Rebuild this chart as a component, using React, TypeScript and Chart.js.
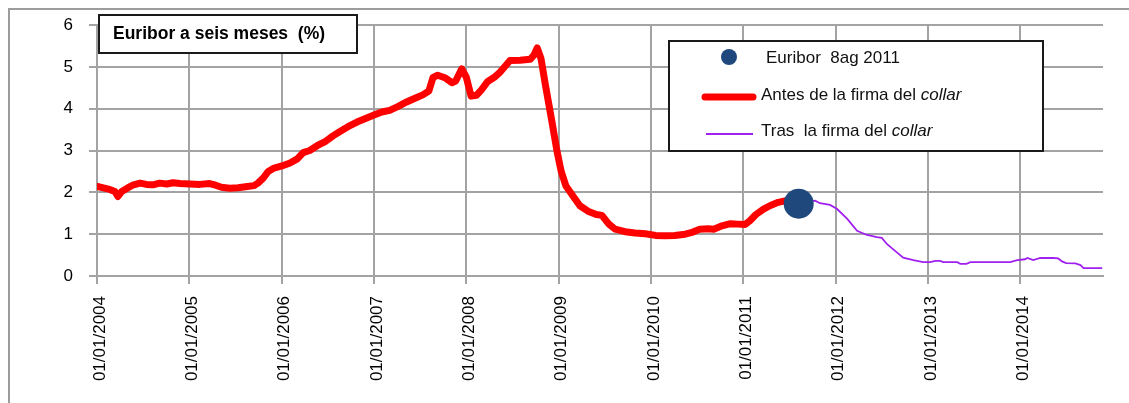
import React, { useEffect, useRef } from "react";
import { Chart, registerables } from "chart.js";

Chart.register(...registerables);

// Six-month Euribor (%), before the collar was signed
const beforeDates = [
  "2004-01-02", "2004-01-30", "2004-02-20", "2004-03-12", "2004-03-24", "2004-04-08",
  "2004-04-30", "2004-05-21", "2004-06-20", "2004-07-15", "2004-08-10", "2004-09-05",
  "2004-10-04", "2004-10-28", "2004-11-25", "2005-01-03", "2005-02-12", "2005-03-22",
  "2005-04-15", "2005-05-08", "2005-06-10", "2005-07-13", "2005-08-18", "2005-09-14",
  "2005-09-29", "2005-10-20", "2005-11-09", "2005-12-02", "2006-01-02", "2006-02-03",
  "2006-03-04", "2006-03-27", "2006-04-22", "2006-05-23", "2006-06-24", "2006-07-23",
  "2006-08-18", "2006-09-20", "2006-10-26", "2006-11-26", "2007-01-01", "2007-02-01",
  "2007-03-04", "2007-04-05", "2007-05-10", "2007-06-12", "2007-07-13", "2007-08-06",
  "2007-08-22", "2007-09-10", "2007-10-08", "2007-11-05", "2007-11-20", "2007-12-14",
  "2008-01-01", "2008-01-20", "2008-02-10", "2008-03-01", "2008-03-26", "2008-04-21",
  "2008-05-15", "2008-06-08", "2008-06-22", "2008-08-01", "2008-09-10", "2008-09-25",
  "2008-10-08", "2008-10-23", "2008-11-10", "2008-12-05", "2008-12-25", "2009-01-11",
  "2009-01-30", "2009-02-28", "2009-03-26", "2009-04-27", "2009-05-30", "2009-06-21",
  "2009-07-17", "2009-08-12", "2009-09-21", "2009-10-30", "2009-12-10", "2010-01-19",
  "2010-02-24", "2010-04-05", "2010-05-16", "2010-06-16", "2010-07-13", "2010-08-15",
  "2010-09-06", "2010-10-09", "2010-11-11", "2010-12-10", "2011-01-08", "2011-01-27",
  "2011-02-20", "2011-03-22", "2011-04-16", "2011-05-19", "2011-06-19", "2011-07-17",
  "2011-08-08",
];
const beforeValues = [
  2.14, 2.10, 2.07, 2.02, 1.90, 2.02,
  2.10, 2.17, 2.22, 2.19, 2.18, 2.22,
  2.20, 2.23, 2.21, 2.20, 2.19, 2.21,
  2.17, 2.12, 2.10, 2.11, 2.14, 2.16,
  2.22, 2.34, 2.50, 2.58, 2.63, 2.70,
  2.80, 2.95, 3.00, 3.12, 3.22, 3.35,
  3.45, 3.57, 3.68, 3.76, 3.85, 3.92,
  3.96, 4.05, 4.16, 4.25, 4.33, 4.42,
  4.74, 4.80, 4.74, 4.62, 4.66, 4.95,
  4.75, 4.30, 4.32, 4.45, 4.65, 4.75,
  4.88, 5.05, 5.15, 5.16, 5.18, 5.28,
  5.45, 5.20, 4.55, 3.70, 3.00, 2.50,
  2.15, 1.90, 1.68, 1.55, 1.47, 1.45,
  1.25, 1.12, 1.06, 1.03, 1.01, 0.97,
  0.96, 0.97, 1.00, 1.05, 1.12, 1.13,
  1.12, 1.20, 1.25, 1.24, 1.23, 1.32,
  1.47, 1.60, 1.68, 1.76, 1.80, 1.80,
  1.73,
];

// Six-month Euribor (%), after the collar was signed
const afterDates = [
  "2011-08-08", "2011-09-09", "2011-10-12", "2011-10-31", "2011-12-10", "2012-01-07",
  "2012-02-17", "2012-03-26", "2012-05-04", "2012-06-13", "2012-07-02", "2012-07-23",
  "2012-09-01", "2012-09-25", "2012-11-04", "2012-12-13", "2013-01-10", "2013-01-30",
  "2013-02-18", "2013-03-02", "2013-04-27", "2013-05-09", "2013-06-02", "2013-06-18",
  "2013-11-22", "2013-12-20", "2014-01-20", "2014-01-29", "2014-02-21", "2014-03-21",
  "2014-05-11", "2014-05-31", "2014-06-15", "2014-07-01", "2014-08-07", "2014-08-27",
  "2014-09-08", "2014-11-21",
];
const afterValues = [
  1.73, 1.78, 1.80, 1.74, 1.70, 1.60,
  1.36, 1.08, 0.98, 0.93, 0.91, 0.76,
  0.56, 0.44, 0.38, 0.33, 0.33, 0.36,
  0.36, 0.33, 0.33, 0.29, 0.29, 0.33,
  0.33, 0.38, 0.40, 0.43, 0.38, 0.43,
  0.43, 0.42, 0.35, 0.31, 0.30, 0.26,
  0.19, 0.19,
];

// Marked point: the day the collar was signed
const signingDates = ["2011-08-08"];
const signingValues = [1.73];

const yearTicks = [2004, 2005, 2006, 2007, 2008, 2009, 2010, 2011, 2012, 2013, 2014];
const axisEndDate = "2014-11-24";

const titleText = "Euribor a seis meses  (%)";
const legendDotLabel = "Euribor  8ag 2011";
const legendBeforeLabel = ["Antes de la firma del ", "collar"];
const legendAfterLabel = ["Tras  la firma del ", "collar"];

const RED = "#ff0000";
const PURPLE = "#a020f0";
const NAVY = "#1f497d";
const GRID = "#a3a3a3";
const FONT = "'Liberation Sans', Arial, sans-serif";

function toYear(d: string): number {
  const [y, m, day] = d.split("-").map(Number);
  const start = Date.UTC(y, 0, 1);
  const end = Date.UTC(y + 1, 0, 1);
  return y + (Date.UTC(y, m - 1, day) - start) / (end - start);
}

function series(dates: string[], values: number[]) {
  return dates.map((d, i) => ({ x: toYear(d), y: values[i] }));
}

const boxesPlugin = {
  id: "boxes",
  afterDraw(chart: any) {
    const ctx: CanvasRenderingContext2D = chart.ctx;
    ctx.save();

    // title box
    ctx.fillStyle = "#ffffff";
    ctx.fillRect(89, 5, 258, 38);
    ctx.strokeStyle = "#1a1a1a";
    ctx.lineWidth = 2;
    ctx.strokeRect(89, 5, 258, 38);
    ctx.fillStyle = "#000000";
    ctx.font = `bold 17.5px ${FONT}`;
    ctx.textBaseline = "middle";
    ctx.textAlign = "left";
    ctx.fillText(titleText, 103, 24);

    // legend box
    ctx.fillStyle = "#ffffff";
    ctx.fillRect(659, 31, 374, 110);
    ctx.strokeStyle = "#1a1a1a";
    ctx.lineWidth = 2;
    ctx.strokeRect(659, 31, 374, 110);

    ctx.fillStyle = NAVY;
    ctx.beginPath();
    ctx.arc(719, 47, 8, 0, Math.PI * 2);
    ctx.fill();

    ctx.lineCap = "round";
    ctx.strokeStyle = RED;
    ctx.lineWidth = 7;
    ctx.beginPath();
    ctx.moveTo(695, 87);
    ctx.lineTo(743, 87);
    ctx.stroke();

    ctx.lineCap = "butt";
    ctx.strokeStyle = PURPLE;
    ctx.lineWidth = 2;
    ctx.beginPath();
    ctx.moveTo(696, 124);
    ctx.lineTo(743, 124);
    ctx.stroke();

    ctx.fillStyle = "#111111";
    ctx.font = `17px ${FONT}`;
    ctx.fillText(legendDotLabel, 756, 48);

    const drawMixed = (parts: string[], x: number, y: number) => {
      ctx.font = `17px ${FONT}`;
      ctx.fillText(parts[0], x, y);
      const w = ctx.measureText(parts[0]).width;
      ctx.font = `italic 17px ${FONT}`;
      ctx.fillText(parts[1], x + w, y);
    };
    drawMixed(legendBeforeLabel, 751, 85);
    drawMixed(legendAfterLabel, 751, 121);

    ctx.restore();
  },
};

export default function App() {
  const canvasRef = useRef<HTMLCanvasElement | null>(null);

  useEffect(() => {
    if (!canvasRef.current) return;
    const chart = new Chart(canvasRef.current, {
      type: "line",
      data: {
        datasets: [
          {
            label: legendDotLabel,
            data: series(signingDates, signingValues),
            showLine: false,
            pointRadius: 15,
            pointBackgroundColor: NAVY,
            pointBorderWidth: 0,
            borderColor: NAVY,
          },
          {
            label: legendBeforeLabel.join(""),
            data: series(beforeDates, beforeValues),
            borderColor: RED,
            borderWidth: 7,
            pointRadius: 0,
            tension: 0,
            borderJoinStyle: "round",
            borderCapStyle: "round",
          },
          {
            label: legendAfterLabel.join(""),
            data: series(afterDates, afterValues),
            borderColor: PURPLE,
            borderWidth: 1.8,
            pointRadius: 0,
            tension: 0,
          },
        ],
      },
      options: {
        responsive: false,
        animation: false,
        events: [],
        layout: { padding: { top: 15, right: 26, left: 0, bottom: 0 } },
        plugins: { legend: { display: false }, tooltip: { enabled: false } },
        scales: {
          x: {
            type: "linear",
            min: yearTicks[0],
            max: toYear(axisEndDate),
            afterBuildTicks: (scale: any) => {
              scale.ticks = yearTicks.map((v) => ({ value: v }));
            },
            afterFit: (scale: any) => {
              scale.height = 127;
              scale.paddingLeft = 0;
              scale.paddingRight = 0;
            },
            ticks: {
              minRotation: 90,
              maxRotation: 90,
              autoSkip: false,
              padding: 12,
              labelOffset: 3,
              color: "#000000",
              font: { family: FONT, size: 17 },
              callback: (v: any) => `01/01/${v}`,
            },
            grid: { color: GRID, lineWidth: 2, tickLength: 8, drawTicks: true },
            border: { display: true, color: GRID, width: 2 },
          },
          y: {
            min: 0,
            max: 6,
            afterFit: (scale: any) => {
              scale.width = 87;
              scale.paddingTop = 0;
              scale.paddingBottom = 0;
            },
            ticks: {
              stepSize: 1,
              padding: 16,
              color: "#000000",
              font: { family: FONT, size: 17 },
            },
            grid: { color: GRID, lineWidth: 2, tickLength: 8, drawTicks: true },
            border: { display: true, color: GRID, width: 2 },
          },
        },
      },
      plugins: [boxesPlugin],
    });
    return () => chart.destroy();
  }, []);

  return (
    <div
      style={{
        position: "absolute",
        left: 8,
        top: 8,
        width: 1121,
        height: 395,
        boxSizing: "border-box",
        borderLeft: "2px solid #9c9c9c",
        borderTop: "2px solid #9c9c9c",
        background: "#ffffff",
      }}
    >
      <canvas ref={canvasRef} width={1119} height={393} style={{ display: "block" }} />
    </div>
  );
}
